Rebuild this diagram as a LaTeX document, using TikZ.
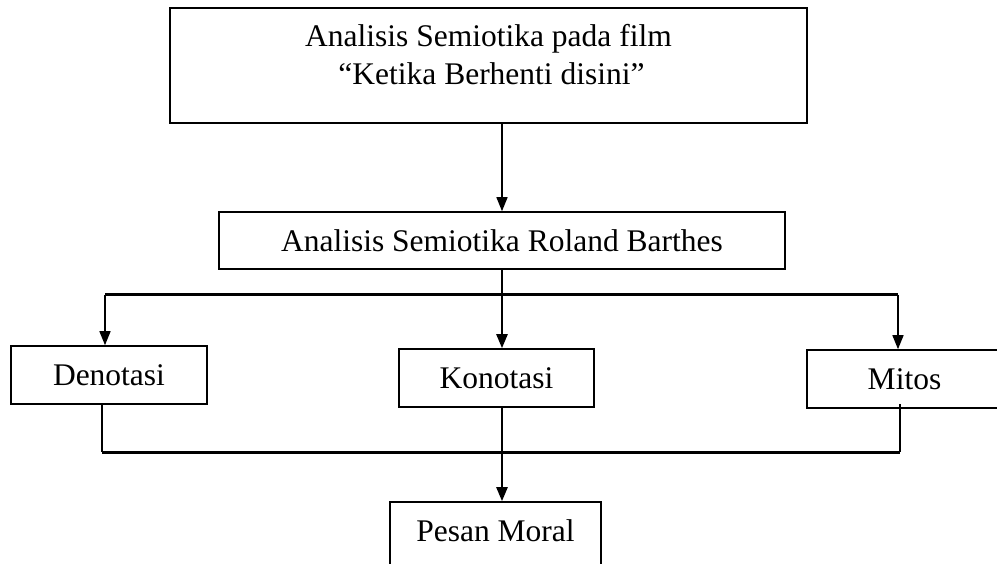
\documentclass[tikz,border=0pt]{standalone}
\usepackage{fontspec}
\setmainfont{Liberation Serif}
\usetikzlibrary{arrows.meta}

\begin{document}
\begin{tikzpicture}[x=1pt, y=-1pt,
    box/.style = {draw, line width=1.6pt, inner sep=0pt, minimum height=58pt,
                  text height=21.5pt, text depth=0pt},
    txt/.style = {inner sep=0pt},
    bus/.style = {line width=3pt},
    link/.style = {line width=2pt},
    arr/.style = {line width=1.5pt, -{Triangle[length=14pt, width=11pt]}},
    font=\fontsize{31.5}{38}\selectfont]
        \useasboundingbox (0,0) rectangle (997,564);
        \clip (0,0) rectangle (997,564);
        % boxes
        \node[box, minimum width=637pt, minimum height=115pt] (film) at (488.5,65.5) {};
        \node[txt, anchor=base] (judul1) at ([yshift=-39pt]film.north) {Analisis Semiotika pada film};
        \node[txt, anchor=base] (judul2) at ([xshift=3pt, yshift=-77pt]film.north) {“Ketika Berhenti disini”};
        \node[box, minimum width=566pt, minimum height=57pt] (barthes) at (502,240.5) {Analisis Semiotika Roland Barthes};
        \node[box, minimum width=196pt] (deno) at (109,375) {Denotasi};
        \node[box, minimum width=195pt] (kono) at (496.5,378) {Konotasi};
        \node[box, minimum width=195pt] (mitos) at (904.5,379) {Mitos};
        \node[box, minimum width=211pt, minimum height=66pt, text depth=8pt] (moral) at (495.5,535) {Pesan Moral};
        % bus points
        \coordinate (busL) at (105,295);
        \coordinate (busM) at (502,295);
        \coordinate (busR) at (898,295);
        \coordinate (botL) at (102,452);
        \coordinate (botM) at (502,452);
        \coordinate (botR) at (900,452);
        % top part
        \draw[arr] (barthes.north |- film.south) -- (barthes.north);
        \draw[link] (barthes.south) -- (busM);
        \draw[bus] (busL) -- (busR);
        \draw[arr] (busL) -- (busL |- deno.north);
        \draw[arr, line width=2.4pt] (busM) -- (busM |- kono.north);
        \draw[arr] (busR) -- (busR |- mitos.north);
        % bottom part
        \draw[link] (deno.south -| botL) -- (botL);
        \draw[link] (kono.south -| botM) -- (botM);
        \draw[link] ([yshift=5pt]mitos.south -| botR) -- (botR);
        \draw[bus] (botL) -- (botR);
        \draw[arr, line width=2.4pt] (botM) -- (botM |- moral.north);
\end{tikzpicture}
\end{document}
